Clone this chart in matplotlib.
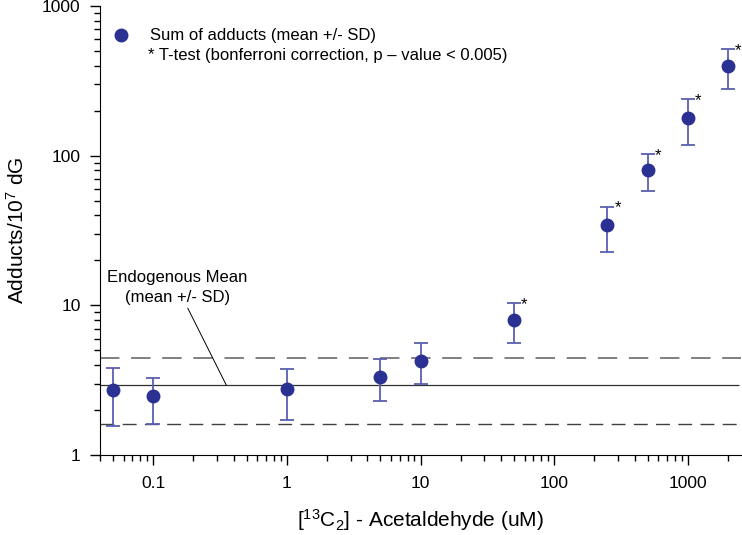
import numpy as np
import matplotlib
matplotlib.use('Agg')
import matplotlib.pyplot as plt

plt.rcParams['font.family'] = ['Liberation Sans', 'DejaVu Sans']
plt.rcParams['mathtext.default'] = 'regular'

# concentration (uM) and sum of adducts per 10^7 dG
conc = [0.05, 0.1, 1, 5, 10, 50, 250, 500, 1000, 2000]
mean = [2.72, 2.47, 2.75, 3.33, 4.27, 8.0, 34.2, 80.1, 179, 397]
upper = [3.8, 3.28, 3.75, 4.36, 5.57, 10.4, 45.6, 102, 238, 514]
lower = [1.57, 1.60, 1.71, 2.30, 2.99, 5.57, 22.6, 58.3, 118, 277]
signif = [False, False, False, False, False, True, True, True, True, True]

# endogenous mean +/- SD
endo_mean = 2.92
endo_hi = 4.47
endo_lo = 1.60

mean = np.array(mean)
yerr = np.vstack((mean - np.array(lower), np.array(upper) - mean))

fig = plt.figure(figsize=(7.42, 5.35), dpi=100)
ax = fig.add_axes([100/742, 80/535, 641/742, 449/535])

ax.hlines(endo_mean, 0.04, 2400, color='#303030', lw=0.9)
ax.hlines(endo_hi, 0.04, 2500, color='#808080', lw=1.4, linestyles=(0, (10, 6)))
ax.hlines(endo_lo, 0.04, 2500, color='#404040', lw=1.0, linestyles=(0, (10, 6)))

ax.errorbar(conc, mean, yerr=yerr, fmt='o', ms=9, color='#2B3192',
            ecolor='#5A5FB0', elinewidth=1.3, capsize=5, capthick=1.3, zorder=3)

# significance stars
for x, u, s in zip(conc, upper, signif):
    if s:
        ax.annotate('*', (x, u), textcoords='offset points', xytext=(7.5, -1),
                    ha='center', va='center', fontsize=12, annotation_clip=False)

ax.set_xscale('log')
ax.set_yscale('log')
ax.set_xlim(0.04, 2500)
ax.set_ylim(1, 1000)

ax.set_xticks([0.1, 1, 10, 100, 1000])
ax.set_xticklabels(['0.1', '1', '10', '100', '1000'])
ax.set_yticks([1, 10, 100, 1000])
ax.set_yticklabels(['1', '10', '100', '1000'])
ax.tick_params(which='major', length=7, width=1, labelsize=12.5)
ax.tick_params(which='minor', length=4, width=1)
ax.tick_params(axis='x', which='major', pad=8)
ax.tick_params(axis='y', which='major', pad=7)

ax.spines['top'].set_visible(False)
ax.spines['right'].set_visible(False)

ax.set_xlabel('[$^{13}$C$_2$] - Acetaldehyde (uM)', fontsize=15, labelpad=12)
ax.set_ylabel('Adducts/10$^7$ dG', fontsize=15, labelpad=10)

# annotation for endogenous mean
ax.annotate('Endogenous Mean\n(mean +/- SD)', xy=(0.353, endo_mean), xytext=(0.152, 10.0),
            ha='center', va='bottom', fontsize=12, linespacing=1.45,
            arrowprops=dict(arrowstyle='-', color='black', lw=0.7, shrinkA=0, shrinkB=0))

# legend
ax.plot([0.033], [0.935], 'o', ms=9, color='#2B3192', transform=ax.transAxes, clip_on=False)
ax.text(0.078, 0.935, 'Sum of adducts (mean +/- SD)', transform=ax.transAxes,
        fontsize=12, va='center')
ax.text(0.075, 0.889, '* T-test (bonferroni correction, p \u2013 value < 0.005)',
        transform=ax.transAxes, fontsize=12, va='center')

plt.savefig('out.png', dpi=100)
